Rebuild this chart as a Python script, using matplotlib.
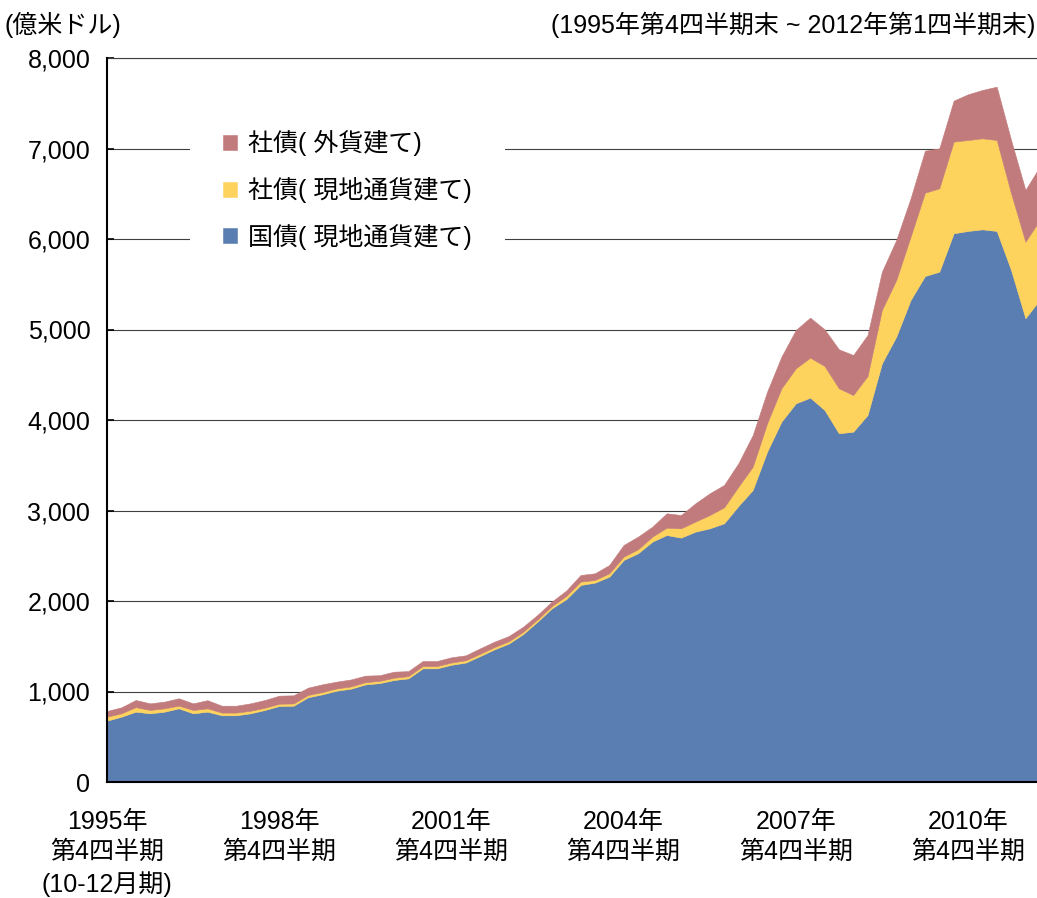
import matplotlib
matplotlib.use("Agg")
import matplotlib.pyplot as plt
import numpy as np

plt.rcParams['font.family'] = ['Liberation Sans', 'Noto Sans CJK JP', 'DejaVu Sans']

# Quarterly data, 1995Q4 .. 2012Q1 (100 million USD)
govt_local = [678, 722, 777, 759, 777, 814, 759, 777, 737, 737,
              759, 796, 840, 843, 936, 969, 1009, 1031, 1078, 1093,
              1127, 1145, 1256, 1256, 1295, 1320, 1392, 1466, 1530, 1635,
              1772, 1919, 2020, 2177, 2203, 2269, 2453, 2527, 2656, 2729,
              2700, 2766, 2803, 2858, 3050, 3227, 3650, 3982, 4184, 4247,
              4111, 3853, 3871, 4055, 4626, 4921, 5326, 5591, 5639, 6063,
              6089, 6107, 6089, 5658, 5124, 5330]
corp_local = [44, 37, 50, 37, 37, 30, 37, 37, 30, 30,
              28, 25, 25, 25, 25, 25, 25, 25, 25, 25,
              25, 25, 25, 25, 25, 25, 25, 25, 25, 25,
              25, 25, 35, 37, 29, 37, 37, 44, 55, 81,
              103, 111, 147, 177, 213, 257, 313, 368, 387, 442,
              486, 497, 405, 431, 590, 626, 700, 921, 921, 1013,
              1005, 1006, 1005, 847, 846, 880]
corp_foreign = [63, 66, 79, 73, 74, 81, 73, 90, 76, 76,
                82, 85, 89, 90, 81, 85, 75, 77, 72, 62,
                67, 55, 56, 56, 58, 55, 60, 60, 58, 56,
                50, 50, 60, 73, 74, 92, 129, 140, 110, 159,
                147, 202, 240, 247, 260, 350, 350, 350, 424, 442,
                405, 431, 442, 453, 423, 442, 424, 464, 442, 453,
                505, 534, 589, 589, 572, 590]

series_labels = ['国債( 現地通貨建て)', '社債( 現地通貨建て)', '社債( 外貨建て)']
series_colors = ['#5A7DB2', '#FDD35E', '#C27B7C']

tick_labels = ['1995年\n第4四半期\n(10-12月期)', '1998年\n第4四半期', '2001年\n第4四半期',
               '2004年\n第4四半期', '2007年\n第4四半期', '2010年\n第4四半期']
y_ticks = [0, 1000, 2000, 3000, 4000, 5000, 6000, 7000, 8000]

W, H = 1037, 898
fig = plt.figure(figsize=(W / 100, H / 100), dpi=100)
ax = fig.add_axes([107 / W, 116 / H, 930 / W, 724 / H])

x = np.arange(len(govt_local))
polys = ax.stackplot(x, govt_local, corp_local, corp_foreign,
                     colors=series_colors, labels=series_labels,
                     linewidth=0.4, zorder=2)
for p, c in zip(polys, series_colors):
    p.set_edgecolor(c)

ax.set_xlim(0, 930 / 14.35)
ax.set_ylim(0, 8000)
ax.set_yticks(y_ticks)
ax.set_yticklabels([f'{v:,}' for v in y_ticks])
ax.set_xticks(x[::12])
ax.set_xticklabels(tick_labels, linespacing=1.33)

ax.grid(axis='y', color='#404040', linewidth=0.8)
ax.set_axisbelow(True)

ax.spines['right'].set_visible(False)
ax.spines['top'].set_color('#404040')
ax.spines['top'].set_linewidth(0.8)
ax.spines['left'].set_linewidth(1.5)
ax.spines['bottom'].set_linewidth(1.5)
ax.spines['left'].set_zorder(5)
ax.spines['bottom'].set_zorder(5)

ax.tick_params(axis='y', direction='in', length=5, width=1.2, labelsize=18, pad=12)
ax.tick_params(axis='x', direction='in', length=5, width=1.2, labelsize=18, pad=20)

handles, labels = ax.get_legend_handles_labels()
leg = ax.legend(handles[::-1], labels[::-1], loc='upper left',
                bbox_to_anchor=((190 - 107) / 930, (782 - 98) / 724),
                borderaxespad=0, frameon=True, fancybox=False,
                facecolor='white', edgecolor='none', framealpha=1,
                fontsize=18, handlelength=0.56, handleheight=0.56,
                handletextpad=0.48, labelspacing=0.82, borderpad=1.3)

fig.text(5 / W, 1 - 25 / H, '(億米ドル)', ha='left', va='center', fontsize=18)
fig.text(1035 / W, 1 - 25 / H, '(1995年第4四半期末 ~ 2012年第1四半期末)',
         ha='right', va='center', fontsize=18)

fig.savefig('out.png', dpi=100, facecolor='white')
